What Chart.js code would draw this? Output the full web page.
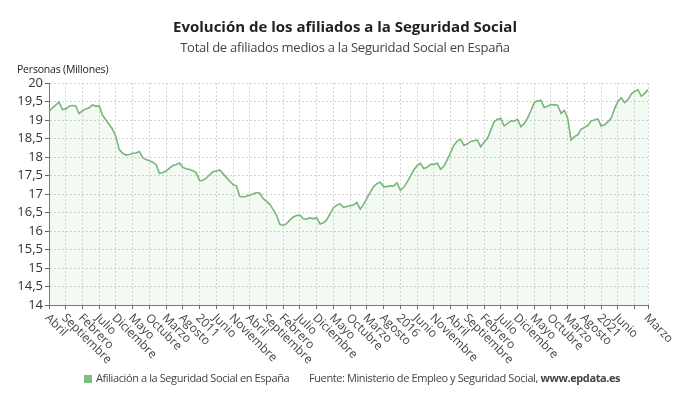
<!DOCTYPE html>
<html>
<head>
<meta charset="utf-8">
<script src="https://cdn.jsdelivr.net/npm/chart.js@4.4.0/dist/chart.umd.min.js"></script>
<style>
  body { margin: 0; background: #fff; font-family: "Open Sans", sans-serif; }
  #wrap { position: relative; width: 690px; height: 405px; overflow: hidden; }
  #chart { position: absolute; left: 0; top: 0; }
  .txt { position: absolute; white-space: nowrap; line-height: 1; }
  #title { top: 19px; left: 0; width: 690px; text-align: center; font-size: 15px; font-weight: bold; color: #222; }
  #subtitle { top: 41px; left: 0; width: 690px; text-align: center; font-size: 13px; letter-spacing: -0.25px; color: #444; }
  #yunit { top: 64px; left: 17px; font-size: 10.5px; letter-spacing: -0.2px; color: #222; }
  #legend { top: 372px; left: 84px; font-size: 11px; letter-spacing: -0.4px; color: #444; }
  #legend .sq { display: inline-block; width: 8px; height: 8px; background: #7cbf7c; margin-right: 4px; vertical-align: -1px; }
  #fuente { top: 372px; left: 309px; font-size: 11px; letter-spacing: -0.4px; color: #444; }
</style>
</head>
<body>
<div id="wrap">
  <canvas id="chart" width="690" height="405"></canvas>
  <div class="txt" id="title">Evolución de los afiliados a la Seguridad Social</div>
  <div class="txt" id="subtitle">Total de afiliados medios a la Seguridad Social en España</div>
  <div class="txt" id="yunit">Personas (Millones)</div>
  <div class="txt" id="legend"><span class="sq"></span>Afiliación a la Seguridad Social en España</div>
  <div class="txt" id="fuente">Fuente: Ministerio de Empleo y Seguridad Social, <b>www.epdata.es</b></div>
</div>
<script>
// afiliados medios (millones), de abril 2007 a marzo 2022
const afil2007 = [19.22, 19.33, 19.40, 19.49, 19.28, 19.30, 19.37, 19.39, 19.38]; // abr-dic
const afil2008 = [19.17, 19.25, 19.30, 19.33, 19.41, 19.37, 19.38, 19.13, 19.00, 18.88, 18.75, 18.55];
const afil2009 = [18.20, 18.10, 18.05, 18.07, 18.10, 18.11, 18.15, 17.98, 17.93, 17.90, 17.86, 17.80];
const afil2010 = [17.56, 17.58, 17.62, 17.70, 17.77, 17.80, 17.84, 17.72, 17.68, 17.66, 17.63, 17.57];
const afil2011 = [17.36, 17.37, 17.43, 17.52, 17.60, 17.62, 17.65, 17.55, 17.45, 17.35, 17.25, 17.22];
const afil2012 = [16.94, 16.92, 16.94, 16.97, 17.00, 17.04, 17.02, 16.88, 16.80, 16.72, 16.58, 16.42];
const afil2013 = [16.18, 16.15, 16.20, 16.30, 16.38, 16.42, 16.43, 16.33, 16.32, 16.36, 16.33, 16.36];
const afil2014 = [16.19, 16.22, 16.30, 16.47, 16.63, 16.70, 16.73, 16.64, 16.66, 16.68, 16.70, 16.77];
const afil2015 = [16.59, 16.72, 16.88, 17.05, 17.20, 17.28, 17.32, 17.20, 17.20, 17.22, 17.22, 17.30];
const afil2016 = [17.10, 17.18, 17.32, 17.48, 17.65, 17.77, 17.83, 17.69, 17.72, 17.80, 17.80, 17.84];
const afil2017 = [17.67, 17.75, 17.92, 18.12, 18.32, 18.43, 18.48, 18.32, 18.35, 18.42, 18.44, 18.46];
const afil2018 = [18.28, 18.40, 18.50, 18.72, 18.95, 19.02, 19.04, 18.84, 18.90, 18.98, 18.97, 19.02];
const afil2019 = [18.82, 18.90, 19.05, 19.25, 19.47, 19.52, 19.53, 19.34, 19.37, 19.42, 19.41, 19.40];
const afil2020 = [19.18, 19.26, 19.05, 18.46, 18.55, 18.60, 18.75, 18.80, 18.85, 18.97, 19.00, 19.03];
const afil2021 = [18.84, 18.87, 18.95, 19.05, 19.30, 19.50, 19.60, 19.47, 19.55, 19.70, 19.77, 19.82];
const afil2022 = [19.64, 19.72, 19.82]; // ene-mar

const meses = ["Enero", "Febrero", "Marzo", "Abril", "Mayo", "Junio", "Julio",
  "Agosto", "Septiembre", "Octubre", "Noviembre", "Diciembre"];
const yTicks = [14, 14.5, 15, 15.5, 16, 16.5, 17, 17.5, 18, 18.5, 19, 19.5, 20];

const valores = [].concat(afil2007, afil2008, afil2009, afil2010, afil2011, afil2012,
  afil2013, afil2014, afil2015, afil2016, afil2017, afil2018, afil2019, afil2020,
  afil2021, afil2022);

// etiqueta por mes; enero lleva el año
const etiquetas = valores.map((v, i) => {
  const m = (3 + i) % 12;
  const anio = 2007 + Math.floor((3 + i) / 12);
  return m === 0 ? String(anio) : meses[m];
});
const ultimo = valores.length - 1;

// etiquetas del eje x giradas hacia abajo a la derecha
const xLabels = {
  id: "xLabels",
  afterDraw(chart) {
    const sc = chart.scales.x;
    const ctx = chart.ctx;
    ctx.save();
    ctx.font = '12px "Open Sans"';
    ctx.fillStyle = "#444";
    ctx.textAlign = "left";
    ctx.textBaseline = "middle";
    sc.ticks.forEach((t, i) => {
      if (!t.label) return;
      const x = sc.getPixelForTick(i);
      ctx.save();
      ctx.translate(x - 2, sc.top + 11);
      ctx.rotate(Math.PI / 4);
      ctx.fillText(t.label, 0, 0);
      ctx.restore();
    });
    ctx.restore();
  }
};

new Chart(document.getElementById("chart"), {
  type: "line",
  data: {
    labels: etiquetas,
    datasets: [{
      label: "Afiliación a la Seguridad Social en España",
      data: valores,
      borderColor: "#79b679",
      borderWidth: 1.6,
      backgroundColor: "rgba(120, 185, 120, 0.09)",
      fill: "start",
      pointRadius: 0,
      tension: 0
    }]
  },
  options: {
    responsive: false,
    animation: false,
    layout: { padding: { top: 83, right: 42, bottom: 90, left: 0 } },
    plugins: { legend: { display: false }, tooltip: { enabled: false } },
    scales: {
      x: {
        type: "category",
        offset: false,
        afterBuildTicks: (scale) => {
          scale.ticks = scale.ticks.filter(t => t.value % 5 === 0 || t.value === ultimo);
        },
        afterFit: (scale) => { scale.height = 10; },
        ticks: {
          display: false,
          autoSkip: false,
          callback: (value) => (value === 175 ? "" : etiquetas[value])
        },
        grid: { color: "#d4d4d4", drawTicks: true, tickLength: 4, tickColor: "#666" },
        border: { color: "#777", width: 1, dash: [2, 2] }
      },
      y: {
        min: 14,
        max: 20,
        afterBuildTicks: (scale) => { scale.ticks = yTicks.map(v => ({ value: v })); },
        afterFit: (scale) => { scale.width = 49; },
        ticks: {
          autoSkip: false,
          padding: 2,
          color: "#333",
          font: { family: "Open Sans", size: 13 },
          callback: (v) => String(v).replace(".", ",")
        },
        grid: { color: "#d4d4d4", drawTicks: true, tickLength: 4, tickColor: "#666" },
        border: { color: "#777", width: 1, dash: [2, 2] }
      }
    }
  },
  plugins: [xLabels]
});
</script>
</body>
</html>
